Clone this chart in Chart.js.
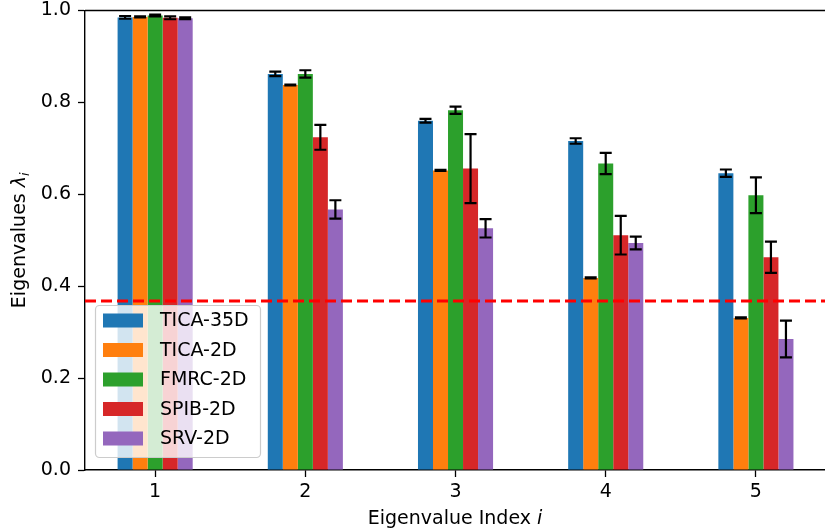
<!DOCTYPE html>
<html>
<head>
<meta charset="utf-8">
<script src="https://cdn.jsdelivr.net/npm/chart.js@4"></script>
<style>
  html, body { margin: 0; padding: 0; background: #fff; overflow: hidden; }
  canvas { display: block; }
</style>
</head>
<body>
<canvas id="eigChart" width="825" height="531"></canvas>
<script>
// eigenvalue index (x categories)
const xLabels = ['1', '2', '3', '4', '5'];
const xIndex = [1, 2, 3, 4, 5];
const yTicks = [0.0, 0.2, 0.4, 0.6, 0.8, 1.0];

const seriesNames = ['TICA-35D', 'TICA-2D', 'FMRC-2D', 'SPIB-2D', 'SRV-2D'];
const seriesColors = ['#1f77b4', '#ff7f0e', '#2ca02c', '#d62728', '#9467bd'];

const tica35 = [0.985, 0.862, 0.760, 0.716, 0.646];
const tica35Err = [0.003, 0.005, 0.004, 0.006, 0.008];
const tica2 = [0.986, 0.838, 0.652, 0.418, 0.331];
const tica2Err = [0.001, 0.001, 0.001, 0.001, 0.001];
const fmrc = [0.989, 0.862, 0.783, 0.667, 0.598];
const fmrcErr = [0.002, 0.008, 0.008, 0.023, 0.039];
const spib = [0.984, 0.724, 0.656, 0.511, 0.463];
const spibErr = [0.003, 0.027, 0.075, 0.042, 0.034];
const srv = [0.983, 0.567, 0.526, 0.494, 0.285];
const srvErr = [0.002, 0.020, 0.020, 0.014, 0.040];

const threshold = Math.exp(-1); // red dashed line

const seriesValues = [tica35, tica2, fmrc, spib, srv];
const seriesErrors = [tica35Err, tica2Err, fmrcErr, spibErr, srvErr];

const FONT = '"DejaVu Sans", sans-serif';
const FONT_SIZE = 19;

// error bars drawn on top of each bar
const errorBars = {
  id: 'errorBars',
  afterDatasetsDraw(chart) {
    const ctx = chart.ctx;
    const yScale = chart.scales.y;
    ctx.save();
    ctx.strokeStyle = '#000';
    ctx.lineWidth = 2.2;
    chart.data.datasets.forEach((ds, di) => {
      const meta = chart.getDatasetMeta(di);
      meta.data.forEach((bar, i) => {
        const v = seriesValues[di][i];
        const e = seriesErrors[di][i];
        const yTop = yScale.getPixelForValue(v + e);
        const yBot = yScale.getPixelForValue(v - e);
        const cap = 6;
        ctx.beginPath();
        ctx.moveTo(bar.x, yTop);
        ctx.lineTo(bar.x, yBot);
        ctx.moveTo(bar.x - cap, yTop);
        ctx.lineTo(bar.x + cap, yTop);
        ctx.moveTo(bar.x - cap, yBot);
        ctx.lineTo(bar.x + cap, yBot);
        ctx.stroke();
      });
    });
    ctx.restore();
  }
};

// dashed threshold line, top spine, legend and axis titles
const decorations = {
  id: 'decorations',
  afterDatasetsDraw(chart) {
    const { ctx, chartArea } = chart;
    const y = chart.scales.y.getPixelForValue(threshold);
    ctx.save();
    ctx.strokeStyle = '#ff0000';
    ctx.lineWidth = 3;
    ctx.setLineDash([11, 5]);
    ctx.beginPath();
    ctx.moveTo(chartArea.left, y);
    ctx.lineTo(chartArea.right, y);
    ctx.stroke();
    ctx.restore();
  },
  afterDraw(chart) {
    const { ctx, chartArea } = chart;
    ctx.save();
    // top spine
    ctx.strokeStyle = '#000';
    ctx.lineWidth = 1.4;
    ctx.beginPath();
    ctx.moveTo(chartArea.left, chartArea.top);
    ctx.lineTo(chartArea.right, chartArea.top);
    ctx.stroke();

    // legend box
    const lx = 95.5, ly = 305.5, lw = 165, lh = 152, r = 4;
    ctx.beginPath();
    ctx.roundRect(lx, ly, lw, lh, r);
    ctx.fillStyle = 'rgba(255,255,255,0.8)';
    ctx.fill();
    ctx.strokeStyle = '#cccccc';
    ctx.lineWidth = 1.2;
    ctx.stroke();

    ctx.font = `${FONT_SIZE}px ${FONT}`;
    ctx.textBaseline = 'middle';
    ctx.textAlign = 'left';
    seriesNames.forEach((name, i) => {
      const cy = 320.5 + i * 29.5;
      ctx.fillStyle = seriesColors[i];
      ctx.fillRect(103, cy - 7, 40, 14);
      ctx.fillStyle = '#000';
      ctx.fillText(name, 160, cy + 1);
    });

    // x axis title: Eigenvalue Index i
    const normal = `${FONT_SIZE}px ${FONT}`;
    const italic = `oblique ${FONT_SIZE}px ${FONT}`;
    ctx.textBaseline = 'alphabetic';
    ctx.font = normal;
    const xt1 = 'Eigenvalue Index ';
    const w1 = ctx.measureText(xt1).width;
    ctx.font = italic;
    const w2 = ctx.measureText('i').width;
    const cx = (chartArea.left + chartArea.right) / 2;
    let x0 = cx - (w1 + w2) / 2;
    ctx.font = normal;
    ctx.fillText(xt1, x0, 524);
    ctx.font = italic;
    ctx.fillText('i', x0 + w1, 524);

    // y axis title: Eigenvalues λ_i
    const cy = (chartArea.top + chartArea.bottom) / 2;
    const sub = `oblique ${Math.round(FONT_SIZE * 0.7)}px ${FONT}`;
    ctx.font = normal;
    const yt1 = 'Eigenvalues ';
    const a = ctx.measureText(yt1).width;
    ctx.font = italic;
    const b = ctx.measureText('λ').width;
    ctx.font = sub;
    const c = ctx.measureText('i').width;
    ctx.translate(25, cy);
    ctx.rotate(-Math.PI / 2);
    let s = -(a + b + c) / 2;
    ctx.font = normal;
    ctx.fillText(yt1, s, 0);
    ctx.font = italic;
    ctx.fillText('λ', s + a, 0);
    ctx.font = sub;
    ctx.fillText('i', s + a + b, 4);
    ctx.restore();
  }
};

const datasets = seriesNames.map((name, k) => ({
  label: name,
  data: xIndex.map((x, i) => ({ x, y: seriesValues[k][i] })),
  backgroundColor: seriesColors[k],
  borderWidth: 0,
  categoryPercentage: 0.5,
  barPercentage: 1.0
}));

new Chart(document.getElementById('eigChart'), {
  type: 'bar',
  data: { datasets },
  plugins: [errorBars, decorations],
  options: {
    responsive: false,
    animation: false,
    layout: { padding: { top: 10.5, right: 0, left: 0, bottom: 0 } },
    plugins: {
      legend: { display: false },
      tooltip: { enabled: false },
      title: { display: false }
    },
    scales: {
      x: {
        type: 'linear',
        min: 0.533,
        max: 5.46,
        offset: false,
        afterBuildTicks: (scale) => { scale.ticks = xIndex.map(v => ({ value: v })); },
        afterFit: (scale) => {
          scale.height = 61;
          scale.paddingLeft = 0;
          scale.paddingRight = 0;
        },
        grid: { offset: false, drawOnChartArea: false, tickLength: 7, tickColor: '#000', tickWidth: 1.3 },
        border: { color: '#000', width: 1.4 },
        ticks: {
          color: '#000',
          font: { family: FONT, size: FONT_SIZE },
          padding: 4,
          maxRotation: 0,
          callback: (v) => xLabels[xIndex.indexOf(v)]
        }
      },
      y: {
        min: 0,
        max: 1,
        afterBuildTicks: (scale) => { scale.ticks = yTicks.map(v => ({ value: v })); },
        afterFit: (scale) => {
          scale.width = 85;
          scale.paddingTop = 0;
          scale.paddingBottom = 0;
        },
        grid: { drawOnChartArea: false, tickLength: 7, tickColor: '#000', tickWidth: 1.3 },
        border: { color: '#000', width: 1.4 },
        ticks: {
          color: '#000',
          font: { family: FONT, size: FONT_SIZE },
          padding: 7,
          callback: (v) => v.toFixed(1)
        }
      }
    }
  }
});
</script>
</body>
</html>
